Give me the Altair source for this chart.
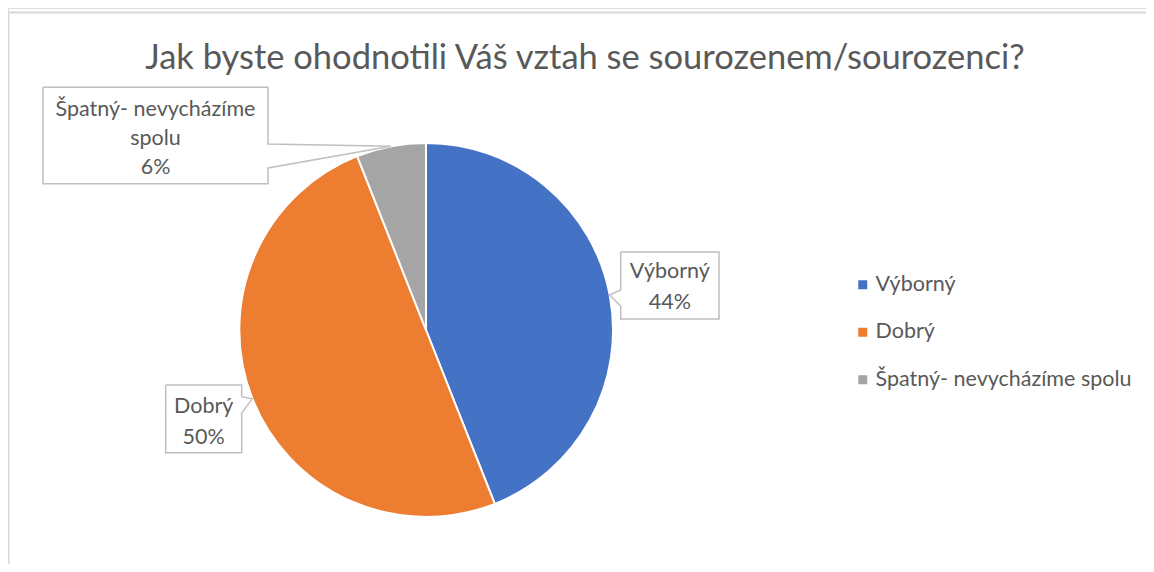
import math
import altair as alt
import pandas as pd

# ---- data ----
categories = ["Výborný", "Dobrý", "Špatný- nevycházíme spolu"]
values = [44, 50, 6]
colors = ["#4472C4", "#ED7D31", "#A5A5A5"]
title_text = "Jak byste ohodnotili Váš vztah se sourozenem/sourozenci?"
# wrapped label lines as in the callouts
label_lines = [["Výborný"], ["Dobrý"], ["Špatný- nevycházíme", "spolu"]]

# ---- layout (chart pixel coordinates) ----
W, H = 1138, 556
CX, CY, R = 418, 322, 187
TEXT = "#595959"
FONT = "Lato"
LFS = 21.5
# callout boxes: x0, y0, x1, y1, pointer side, pointer span (ya, yb), first baseline, line step
boxes = [
    (612.7, 244, 711, 311, "left", (282, 298), 269.5, 31),
    (157.7, 377, 233.7, 444.7, "right", (388.7, 405), 404.7, 31),
    (35, 79.3, 260, 175.7, "right", (136, 160), 108, 29),
]

df = pd.DataFrame({"category": categories, "value": values, "order": range(len(values))})

total = sum(values)
poly_rows, text_rows = [], []
cum = 0
for i, (cat, v) in enumerate(zip(categories, values)):
    mid = (cum + v / 2) / total * 2 * math.pi
    cum += v
    tx, ty = CX + R * math.sin(mid), CY - R * math.cos(mid)
    x0, y0, x1, y1, side, (ya, yb), base, step = boxes[i]
    if side == "left":
        pts = [(x0, y0), (x1, y0), (x1, y1), (x0, y1), (x0, yb), (tx, ty), (x0, ya), (x0, y0)]
    else:
        pts = [(x0, y0), (x1, y0), (x1, ya), (tx, ty), (x1, yb), (x1, y1), (x0, y1), (x0, y0)]
    for k, (px, py) in enumerate(pts):
        poly_rows.append({"id": i, "k": k, "px": px, "py": py})
    lines = label_lines[i] + [f"{v}%"]
    for j, t in enumerate(lines):
        text_rows.append({"px": (x0 + x1) / 2, "py": base + j * step, "t": t})

poly_df = pd.DataFrame(poly_rows)
text_df = pd.DataFrame(text_rows)

color_scale = alt.Scale(domain=categories, range=colors)

pie = alt.Chart(df).mark_arc(outerRadius=R, stroke="white", strokeWidth=2).encode(
    theta=alt.Theta("value:Q", stack=True),
    color=alt.Color(
        "category:N",
        scale=color_scale,
        sort=categories,
        legend=alt.Legend(
            title=None,
            orient="none",
            legendX=844,
            legendY=266,
            symbolType="square",
            symbolSize=81,
            symbolStrokeWidth=0,
            labelFontSize=LFS,
            labelFont=FONT,
            labelColor=TEXT,
            labelOffset=2,
            rowPadding=24.5,
            padding=0,
            labelLimit=400,
        ),
    ),
    order=alt.Order("order:Q"),
    x=alt.value(CX),
    y=alt.value(CY),
)

frame_left = alt.Chart(df).mark_rule(color="#D9D9D9", strokeWidth=1.5).encode(
    x=alt.value(0.5), y=alt.value(4), y2=alt.value(H)
)
frame_top = alt.Chart(df).mark_rule(color="#D9D9D9", strokeWidth=1.5).encode(
    x=alt.value(0), x2=alt.value(W), y=alt.value(4.5)
)

callouts = alt.Chart(poly_df).mark_line(color="#BFBFBF", strokeWidth=1.5).encode(
    x=alt.X("px:Q", scale=None),
    y=alt.Y("py:Q", scale=None),
    detail="id:N",
    order="k:Q",
)

labels = alt.Chart(text_df).mark_text(
    font=FONT, fontSize=LFS, color=TEXT, align="center", baseline="alphabetic"
).encode(
    x=alt.X("px:Q", scale=None),
    y=alt.Y("py:Q", scale=None),
    text="t:N",
)

title = alt.Chart(pd.DataFrame({"t": [title_text]})).mark_text(
    font=FONT, fontSize=34.5, color=TEXT, align="center", baseline="alphabetic"
).encode(x=alt.value(577), y=alt.value(61), text="t:N")

chart = (
    alt.layer(frame_left, frame_top, pie, callouts, labels, title)
    .properties(width=W, height=H, autosize=alt.AutoSizeParams(type="none"), padding=0)
    .configure_view(stroke=None)
    .configure(background="white")
)

chart.save("out.html", embed_options={"renderer": "svg", "actions": False})
